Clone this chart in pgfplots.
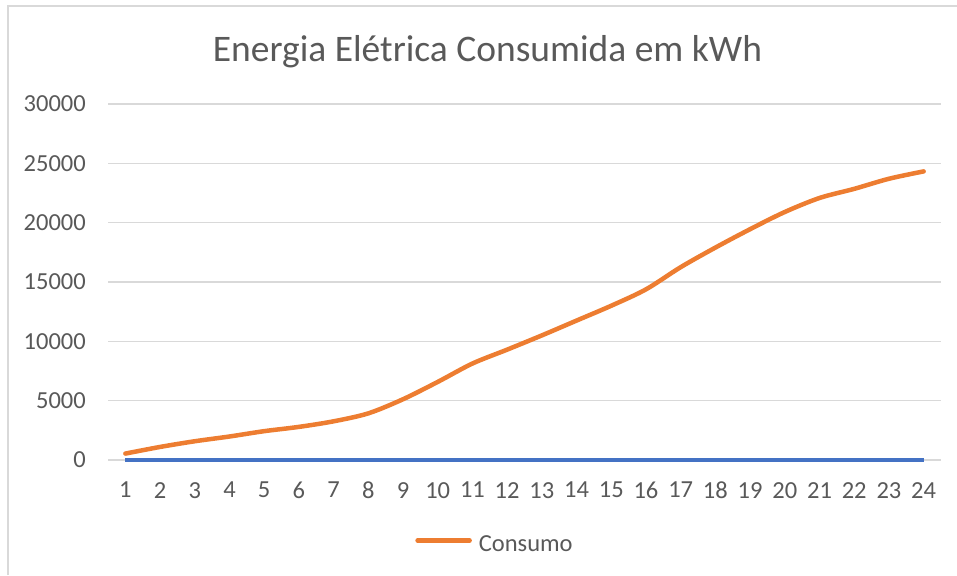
\documentclass[border=0pt]{standalone}
\usepackage{pgfplots}
\pgfplotsset{compat=1.18}
\usepackage{fontspec}
\setmainfont{Carlito}
\definecolor{exorange}{HTML}{ED7D31}
\definecolor{exblue}{HTML}{4472C4}
\definecolor{txtgray}{HTML}{595959}
\definecolor{gridgray}{HTML}{D9D9D9}
\begin{document}
\begin{tikzpicture}
\useasboundingbox (0,0) rectangle (957pt,575pt);
\draw[gridgray, line width=1.5pt] (8pt,0pt) -- (8pt,569pt) -- (957pt,569pt);
\node[anchor=base, text=txtgray, font=\fontsize{37.5}{44}\selectfont, inner sep=0pt] at (487.5pt,513pt) {Energia Elétrica Consumida em kWh};
\begin{axis}[
  at={(108pt,115pt)}, anchor=south west,
  scale only axis, width=833pt, height=356pt,
  xmin=0.5, xmax=24.5, ymin=0, ymax=30000,
  clip=false,
  xtick={1,...,24}, ytick={0,5000,...,30000},
  axis lines=left,
  axis line style={draw=none,-},
  major tick length=0pt,
  ymajorgrids, grid style={gridgray, line width=1.2pt},
  scaled y ticks=false,
  /pgf/number format/1000 sep={},
  /pgf/number format/assume math mode=true,
  tick label style={text=txtgray, font=\fontsize{24.5}{29}\selectfont, inner sep=0pt},
  yticklabel style={anchor=east, xshift=-22pt},
  xticklabel style={anchor=north, yshift=-22pt},
  legend style={at={(0.4634,-0.236)}, anchor=center, draw=none, fill=none,
    font=\fontsize{24.5}{29}\selectfont, text=txtgray, inner sep=0pt,
    nodes={inner sep=0pt}, column sep=7pt},
  legend cell align=left,
  legend image code/.code={\draw[#1] (0pt,0.35em) -- (52pt,0.35em);},
]
\addplot[exblue, line width=3.8pt, forget plot] coordinates {
(1,0)(2,0)(3,0)(4,0)(5,0)(6,0)(7,0)(8,0)(9,0)(10,0)(11,0)(12,0)
(13,0)(14,0)(15,0)(16,0)(17,0)(18,0)(19,0)(20,0)(21,0)(22,0)(23,0)(24,0)};
\addplot[exorange, line width=4.5pt, smooth, line cap=round, line join=round] coordinates {
(1,540)(2,1100)(3,1580)(4,1980)(5,2430)(6,2790)(7,3260)(8,3930)
(9,5120)(10,6580)(11,8130)(12,9300)(13,10500)(14,11750)(15,13000)(16,14380)
(17,16250)(18,17900)(19,19450)(20,20900)(21,22080)(22,22850)(23,23700)(24,24320)};
\addlegendentry{Consumo}
\end{axis}
\end{tikzpicture}
\end{document}
